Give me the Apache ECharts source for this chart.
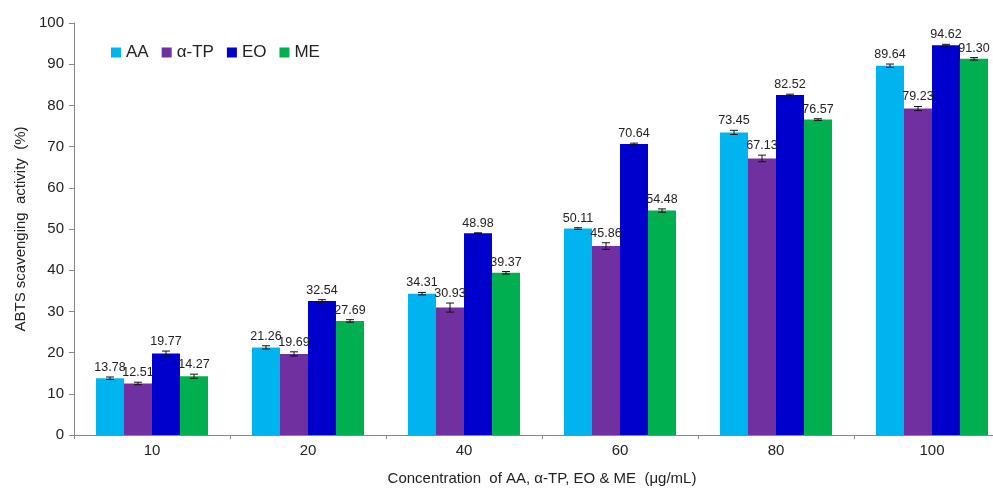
<!DOCTYPE html>
<html>
<head>
<meta charset="utf-8">
<script src="https://cdn.jsdelivr.net/npm/echarts@6/dist/echarts.min.js"></script>
<style>
  html, body { margin: 0; padding: 0; background: #fff; overflow: hidden; }
  /* canvas is wider than the window, so the last group runs off the right edge */
  #chart { width: 1010px; height: 491px; }
</style>
</head>
<body>
<div id="chart"></div>
<script>
// Concentrations (µg/mL)
const categories = ['10', '20', '40', '60', '80', '100'];

// ABTS scavenging activity (%), means
const aa   = [13.78, 21.26, 34.31, 50.11, 73.45, 89.64];
const atp  = [12.51, 19.69, 30.93, 45.86, 67.13, 79.23];
const eo   = [19.77, 32.54, 48.98, 70.64, 82.52, 94.62];
const me   = [14.27, 27.69, 39.37, 54.48, 76.57, 91.30];

// Standard deviations
const aaErr  = [0.3, 0.4, 0.3, 0.2, 0.5, 0.4];
const atpErr = [0.3, 0.5, 1.1, 0.8, 0.8, 0.5];
const eoErr  = [0.6, 0.3, 0.1, 0.2, 0.2, 0.2];
const meErr  = [0.5, 0.3, 0.3, 0.4, 0.2, 0.3];

const seriesNames = ['AA', 'α-TP', 'EO', 'ME'];
const colors = ['#00B4F0', '#7030A0', '#0000CD', '#00B050'];
const means = [aa, atp, eo, me];
const errs = [aaErr, atpErr, eoErr, meErr];

const BAR_W = 28;
const FONT = '"Liberation Sans", Arial, sans-serif';

const chart = echarts.init(document.getElementById('chart'));

const barSeries = seriesNames.map((name, i) => ({
  name: name,
  type: 'bar',
  data: means[i],
  barWidth: BAR_W,
  barGap: '0%',
  itemStyle: { color: colors[i] },
  emphasis: { disabled: true }
}));

// Error bars with caps and value labels above each bar
const errorSeries = seriesNames.map((name, i) => ({
  type: 'custom',
  name: name + ' err',
  data: means[i].map((v, k) => [k, v, errs[i][k]]),
  z: 5,
  renderItem: function (params, api) {
    const k = api.value(0), v = api.value(1), e = api.value(2);
    const base = api.coord([k, v]);
    const dx = (i - 1.5) * BAR_W;
    const x = base[0] + dx;
    const top = api.coord([k, v + e])[1];
    const bot = api.coord([k, v - e])[1];
    const cap = 4;
    const stroke = { stroke: '#111', lineWidth: 1 };
    return {
      type: 'group',
      children: [
        { type: 'line', shape: { x1: x, y1: top, x2: x, y2: bot }, style: stroke },
        { type: 'line', shape: { x1: x - cap, y1: top, x2: x + cap, y2: top }, style: stroke },
        { type: 'line', shape: { x1: x - cap, y1: bot, x2: x + cap, y2: bot }, style: stroke },
        { type: 'text', x: x, y: top - 3,
          style: { text: v.toFixed(2), textAlign: 'center', textVerticalAlign: 'bottom',
                   font: '12.5px ' + FONT, fill: '#222' } }
      ]
    };
  }
}));

chart.setOption({
  animation: false,
  textStyle: { fontFamily: FONT },
  grid: { left: 74, right: 0, top: 23, bottom: 51, containLabel: false },
  legend: {
    data: seriesNames,
    left: 106, top: 39,
    itemWidth: 10, itemHeight: 10, itemGap: 13,
    icon: 'rect',
    textStyle: { fontSize: 17, color: '#222', fontFamily: FONT }
  },
  xAxis: {
    type: 'category',
    data: categories,
    name: 'Concentration  of AA, α-TP, EO & ME  (μg/mL)',
    nameLocation: 'middle',
    nameGap: 36,
    nameTextStyle: { fontSize: 15, color: '#222', fontFamily: FONT },
    axisLine: { lineStyle: { color: '#888' } },
    axisTick: { show: true, length: 4, lineStyle: { color: '#888' } },
    axisLabel: { fontSize: 15, color: '#222', margin: 8 }
  },
  yAxis: {
    type: 'value',
    min: 0, max: 100, interval: 10,
    name: 'ABTS scavenging  activity  (%)',
    nameLocation: 'middle',
    nameGap: 46,
    nameTextStyle: { fontSize: 15, color: '#222', fontFamily: FONT },
    axisLine: { show: true, lineStyle: { color: '#888' } },
    axisTick: { show: true, length: 5, lineStyle: { color: '#888' } },
    axisLabel: { fontSize: 15, color: '#222', margin: 10 },
    splitLine: { show: false }
  },
  series: barSeries.concat(errorSeries)
});
</script>
</body>
</html>
